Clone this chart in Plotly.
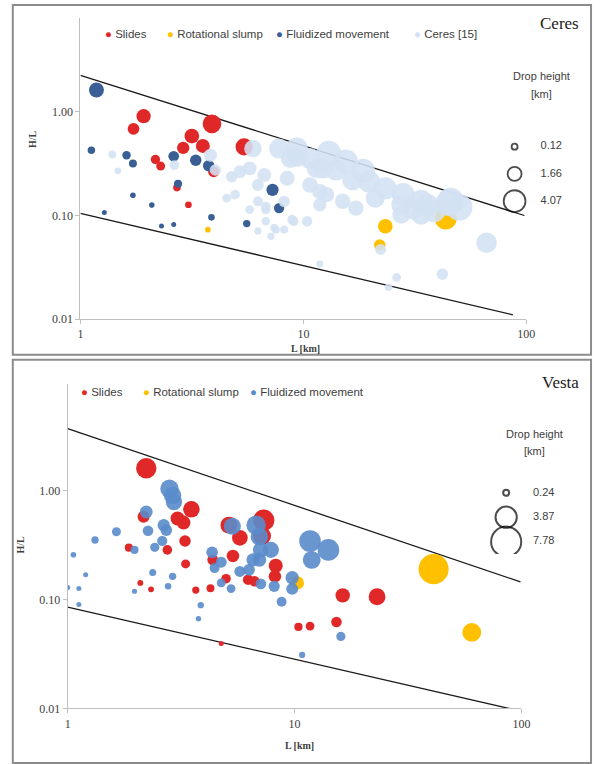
import plotly.graph_objects as go

W, H = 602, 764

# ---------------- Ceres (top panel) ----------------
ceres_slides_L = [1.92, 1.73, 3.89, 3.16, 2.89, 3.54, 2.17, 2.29, 5.42, 3.96, 2.71, 3.05]
ceres_slides_HL = [0.91, 0.687, 0.768, 0.585, 0.449, 0.47, 0.347, 0.30, 0.46, 0.265, 0.186, 0.127]

ceres_slump_L = [3.73, 23.3, 22.0, 43.5]
ceres_slump_HL = [0.073, 0.0788, 0.0519, 0.0932]

ceres_fluid_L = [1.18, 1.12, 1.61, 1.72, 2.62, 3.29, 3.76, 2.74, 1.72, 2.09, 1.28, 2.31, 2.62, 3.87, 5.57, 7.27, 7.78]
ceres_fluid_HL = [1.63, 0.426, 0.382, 0.318, 0.373, 0.342, 0.302, 0.203, 0.157, 0.126, 0.107, 0.079, 0.0817, 0.096, 0.0835, 0.177, 0.118]

ceres15_L = [1.39, 1.47, 2.64, 3.83, 4.03, 4.77, 5.19, 5.74, 5.94, 4.53, 4.94, 5.74, 6.25, 6.78, 6.78,
             7.52, 7.78, 8.75, 9.35, 10.7, 12.3, 6.68, 6.25, 8.46, 9.05, 10.4, 11.85, 6.25, 8.2, 9.35,
             11.45, 14.0, 16.6, 19.7, 23.3, 12.7, 15.0, 17.2, 21.0, 27.5, 33.7, 38.6, 45.7, 33.7, 66.3,
             42.0, 26.2, 11.85, 24.1, 22.2, 6.78, 8.2, 8.9, 7.4, 7.15, 11.85, 10.7, 27.5, 45.0, 13.0,
             15.5, 18.5, 28.0, 31.0, 50.0, 36.0]
ceres15_HL = [0.388, 0.27, 0.307, 0.382, 0.275, 0.237, 0.265, 0.285, 0.443, 0.147, 0.159, 0.114, 0.137, 0.114, 0.088,
              0.073, 0.443, 0.355, 0.443, 0.355, 0.285, 0.246, 0.197, 0.229, 0.088, 0.088, 0.127, 0.071, 0.073, 0.369,
              0.285, 0.275, 0.22, 0.212, 0.183, 0.159, 0.137, 0.118, 0.147, 0.102, 0.137, 0.11, 0.137, 0.102, 0.0545,
              0.0271, 0.0252, 0.034, 0.0203, 0.047, 0.122, 0.137, 0.0911, 0.076, 0.063, 0.17, 0.197, 0.127, 0.132, 0.40,
              0.33, 0.27, 0.16, 0.115, 0.12, 0.125]

ceres_upper_L = [1.0, 98.0]
ceres_upper_HL = [2.26, 0.10]
ceres_lower_L = [1.0, 87.0]
ceres_lower_HL = [0.105, 0.011]

ceres_legend_sizes = [0.12, 1.66, 4.07]

# ---------------- Vesta (bottom panel) ----------------
vesta_slides_L = [2.22, 3.51, 3.05, 3.24, 2.16, 3.29, 2.75, 1.86, 3.31, 2.09, 2.33, 3.67, 4.26, 4.36, 4.99,
                  5.35, 5.14, 5.74, 7.31, 7.19, 6.24, 6.66, 8.26, 8.19, 10.4, 11.7, 16.3, 23.1, 15.3, 4.75]
vesta_slides_HL = [1.6, 0.672, 0.553, 0.508, 0.573, 0.344, 0.285, 0.299, 0.212, 0.142, 0.124, 0.122, 0.127, 0.231, 0.155,
                   0.251, 0.481, 0.368, 0.534, 0.382, 0.152, 0.147, 0.204, 0.163, 0.056, 0.057, 0.109, 0.106, 0.0622, 0.0395]

vesta_slump_L = [41.0, 60.4, 10.3]
vesta_slump_HL = [0.19, 0.0498, 0.142]

vesta_fluid_L = [2.81, 2.9, 2.94, 2.22, 2.26, 2.65, 2.72, 2.61, 2.42, 1.97, 1.64, 1.32, 1.06, 1.2, 1.12, 1.0,
                 1.12, 1.97, 2.37, 2.77, 2.9, 3.86, 3.77, 4.33, 4.44, 4.75, 4.75, 5.25, 5.32, 5.74, 6.3, 6.77,
                 7.0, 7.08, 7.86, 7.0, 7.1, 8.13, 9.76, 9.76, 8.77, 11.7, 11.9, 14.1, 16.0, 10.8, 6.56]
vesta_fluid_HL = [1.036, 0.90, 0.783, 0.635, 0.427, 0.481, 0.433, 0.344, 0.301, 0.285, 0.418, 0.351, 0.257, 0.169, 0.126, 0.129,
                  0.09, 0.119, 0.177, 0.132, 0.163, 0.0887, 0.0667, 0.271, 0.194, 0.22, 0.142, 0.126, 0.47, 0.181, 0.187, 0.481,
                  0.376, 0.285, 0.285, 0.231, 0.139, 0.132, 0.158, 0.125, 0.0953, 0.344, 0.231, 0.285, 0.0458, 0.031, 0.231]

vesta_upper_L = [1.0, 99.0]
vesta_upper_HL = [3.7, 0.145]
vesta_lower_L = [1.0, 90.0]
vesta_lower_HL = [0.085, 0.0099]

vesta_legend_sizes = [0.24, 3.87, 7.78]

x_tick_vals = [1, 10, 100]
x_tick_text = ["1", "10", "100"]
y_tick_vals = [0.01, 0.1, 1]
y_tick_text = ["0.01", "0.10", "1.00"]

# ---------------- styles ----------------
RED = "#E02828"
YELLOW = "#FFC000"
DARKBLUE = "#3A5F94"
LIGHTBLUE = "#D3E1F2"
BLUE = "#5A8BCB"
SIZEREF = 2 / 10.8 ** 2
SANS = "Liberation Sans"
SERIF = "Liberation Serif"
TXT = "#404040"
AXC = "#BFBFBF"


def fx(p):
    return p / W


def fy(p):
    return 1 - p / H


def drop_height(L, HL):
    # drop height H = L * (H/L)
    return [l * r for l, r in zip(L, HL)]


def bubbles(L, HL, color, name, xa, ya, opacity=1.0):
    return go.Scatter(
        x=L, y=HL, mode="markers", name=name, xaxis=xa, yaxis=ya,
        marker=dict(size=drop_height(L, HL), sizemode="area", sizeref=SIZEREF, sizemin=2.5,
                    color=color, opacity=opacity, line=dict(width=0)),
        showlegend=False, hoverinfo="skip")


def envelope(L, HL, xa, ya):
    return go.Scatter(x=L, y=HL, mode="lines", xaxis=xa, yaxis=ya,
                      line=dict(color="#1A1A1A", width=1.3), showlegend=False, hoverinfo="skip")


fig = go.Figure()

# top panel
fig.add_trace(envelope(ceres_upper_L, ceres_upper_HL, "x", "y"))
fig.add_trace(envelope(ceres_lower_L, ceres_lower_HL, "x", "y"))
fig.add_trace(bubbles(ceres_slides_L, ceres_slides_HL, RED, "Slides", "x", "y"))
fig.add_trace(bubbles(ceres_slump_L, ceres_slump_HL, YELLOW, "Rotational slump", "x", "y"))
fig.add_trace(bubbles(ceres_fluid_L, ceres_fluid_HL, DARKBLUE, "Fluidized movement", "x", "y"))
fig.add_trace(bubbles(ceres15_L, ceres15_HL, LIGHTBLUE, "Ceres [15]", "x", "y", opacity=0.88))

# bottom panel
fig.add_trace(envelope(vesta_upper_L, vesta_upper_HL, "x2", "y2"))
fig.add_trace(envelope(vesta_lower_L, vesta_lower_HL, "x2", "y2"))
fig.add_trace(bubbles(vesta_slides_L, vesta_slides_HL, RED, "Slides", "x2", "y2"))
fig.add_trace(bubbles(vesta_slump_L, vesta_slump_HL, YELLOW, "Rotational slump", "x2", "y2"))
fig.add_trace(bubbles(vesta_fluid_L, vesta_fluid_HL, BLUE, "Fluidized movement", "x2", "y2", opacity=0.9))


# size legends
def size_legend(vals, xa, ya, lw):
    rows = list(range(len(vals)))
    fig.add_trace(go.Scatter(
        x=[0.2] * len(vals), y=rows, mode="markers", xaxis=xa, yaxis=ya,
        marker=dict(size=vals, sizemode="area", sizeref=SIZEREF, sizemin=3, symbol="circle-open",
                    color="black", line=dict(width=lw, color="black")),
        showlegend=False, hoverinfo="skip"))
    fig.add_trace(go.Scatter(
        x=[0.64] * len(vals), y=rows, mode="text", xaxis=xa, yaxis=ya,
        text=[f"{v:.2f}" for v in vals], textposition="middle center",
        textfont=dict(family=SANS, size=11, color=TXT), showlegend=False, hoverinfo="skip"))


size_legend(ceres_legend_sizes, "x3", "y3", 1.8)
size_legend(vesta_legend_sizes, "x4", "y4", 2.0)

axis_common = dict(type="log", showgrid=False, zeroline=False, showline=True, linecolor=AXC, linewidth=1,
                   ticks="outside", ticklen=4, tickcolor=AXC,
                   tickfont=dict(family=SERIF, size=12, color=TXT))
hidden = dict(visible=False, showgrid=False, zeroline=False, fixedrange=True)

fig.update_layout(
    width=W, height=H, margin=dict(l=0, r=0, t=0, b=0),
    paper_bgcolor="white", plot_bgcolor="rgba(0,0,0,0)",
    showlegend=False,
    xaxis=dict(axis_common, domain=[fx(79), fx(534)], range=[0, 2], anchor="y",
               tickvals=x_tick_vals, ticktext=x_tick_text),
    yaxis=dict(axis_common, domain=[fy(322), fy(18)], range=[-2, 0.909], anchor="x",
               tickvals=y_tick_vals, ticktext=y_tick_text),
    xaxis2=dict(axis_common, domain=[fx(66), fx(529)], range=[0, 2], anchor="y2",
                tickvals=x_tick_vals, ticktext=x_tick_text),
    yaxis2=dict(axis_common, domain=[fy(715), fy(388)], range=[-2, 0.973], anchor="x2",
                tickvals=y_tick_vals, ticktext=y_tick_text),
    xaxis3=dict(hidden, domain=[fx(505), fx(590)], range=[0, 1], anchor="y3"),
    yaxis3=dict(hidden, domain=[fy(216.75), fy(134.25)], range=[2.5, -0.5], anchor="x3"),
    xaxis4=dict(hidden, domain=[fx(496), fx(583)], range=[0, 1], anchor="y4"),
    yaxis4=dict(hidden, domain=[fy(559), fy(485)], range=[2.5, -0.5], anchor="x4"),
)

# panel frames
fig.add_shape(type="rect", xref="paper", yref="paper", x0=fx(10), x1=fx(600), y0=fy(358), y1=fy(5),
              line=dict(color="#8C8C8C", width=2), layer="below")
fig.add_shape(type="rect", xref="paper", yref="paper", x0=fx(10), x1=fx(600), y0=fy(770), y1=fy(363),
              line=dict(color="#8C8C8C", width=2), layer="below")

ann = []


def text(x, y, s, size=12, family=SANS, xanchor="center", angle=0, color=TXT):
    ann.append(dict(x=fx(x), y=fy(y), xref="paper", yref="paper", text=s, showarrow=False,
                    xanchor=xanchor, yanchor="middle", textangle=angle,
                    font=dict(family=family, size=size, color=color)))


# titles
text(590, 24, "Ceres", size=17, family=SERIF, xanchor="right", color="#222222")
text(590, 386, "Vesta", size=17, family=SERIF, xanchor="right", color="#222222")

# axis titles
text(30, 140, "<b>H/L</b>", size=10, family=SERIF, angle=-90)
text(309, 352, "<b>L [km]</b>", size=10, family=SERIF)
text(18, 550, "<b>H/L</b>", size=10, family=SERIF, angle=-90)
text(303, 752, "<b>L [km]</b>", size=10, family=SERIF)

# series legends
top_items = [("Slides", RED, 106), ("Rotational slump", YELLOW, 169),
             ("Fluidized movement", DARKBLUE, 281), ("Ceres [15]", LIGHTBLUE, 421)]
for name, col, cx in top_items:
    text(cx - 4, 34, f"<span style='color:{col}'>●</span> {name}", size=11.5, xanchor="left")
bot_items = [("Slides", RED, 82), ("Rotational slump", YELLOW, 145), ("Fluidized movement", BLUE, 254)]
for name, col, cx in bot_items:
    text(cx - 4, 396, f"<span style='color:{col}'>●</span> {name}", size=11.5, xanchor="left")

# size legend titles
text(549, 77, "Drop height", size=11)
text(549, 95, "[km]", size=11)
text(542, 438, "Drop height", size=11)
text(542, 455, "[km]", size=11)

fig.update_layout(annotations=ann)
fig.write_html("out.html", config={"displayModeBar": False},
               post_script="document.body.style.margin='0';document.body.style.padding='0';")
